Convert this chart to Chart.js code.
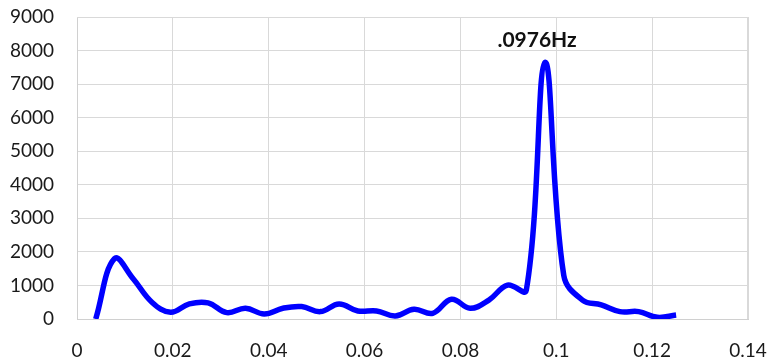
<!DOCTYPE html>
<html>
<head>
<meta charset="utf-8">
<script src="https://cdn.jsdelivr.net/npm/chart.js@4/dist/chart.umd.min.js"></script>
<style>
  html, body { margin: 0; padding: 0; background: #fff; }
  #wrap { width: 768px; height: 360px; }
</style>
</head>
<body>
<div id="wrap"><canvas id="c" width="768" height="360"></canvas></div>
<script>
// FFT bin index (frequency = bin / 256 Hz)
const bins = [1,2,3,4,5,6,7,8,9,10,11,12,13,14,15,16,17,18,19,20,21,22,23,24,25,26,27,28,29,30,31,32];
// Spectral magnitude per bin
const magnitude = [0,1800,1200,500,200,450,480,190,320,150,320,370,220,450,240,240,90,290,170,590,320,565,1010,860,7650,1300,565,420,220,220,50,120];
const xTicks = [0,0.02,0.04,0.06,0.08,0.1,0.12,0.14];
const yTicks = [0,1000,2000,3000,4000,5000,6000,7000,8000,9000];
const peakLabel = '.0976Hz';
const peakBin = 25;

const points = bins.map((b, i) => ({ x: b / 256, y: magnitude[i] }));

const peakLabelPlugin = {
  id: 'peakLabel',
  afterDatasetsDraw(chart) {
    const { ctx, scales } = chart;
    const i = bins.indexOf(peakBin);
    const px = scales.x.getPixelForValue(points[i].x);
    const py = scales.y.getPixelForValue(points[i].y);
    ctx.save();
    ctx.font = 'bold 21px Lato, "Open Sans", sans-serif';
    ctx.fillStyle = '#111';
    ctx.textAlign = 'center';
    ctx.textBaseline = 'alphabetic';
    ctx.fillText(peakLabel, px - 8, py - 15);
    ctx.restore();
  }
};

new Chart(document.getElementById('c'), {
  type: 'line',
  data: {
    datasets: [{
      data: points,
      borderColor: '#0000ff',
      borderWidth: 5.5,
      pointRadius: 0,
      tension: 0.4,
      fill: false
    }]
  },
  options: {
    responsive: false,
    animation: false,
    layout: { padding: 0 },
    plugins: { legend: { display: false }, tooltip: { enabled: false } },
    scales: {
      x: {
        type: 'linear',
        min: 0, max: 0.14,
        afterBuildTicks(s) { s.ticks = xTicks.map(v => ({ value: v })); },
        afterFit(s) { s.height = 41; s.paddingLeft = 0; s.paddingRight = 20; },
        grid: { color: '#d9d9d9', lineWidth: 1, drawTicks: false },
        border: { color: '#d0d0d0' },
        ticks: {
          padding: 20,
          color: '#1a1a1a',
          font: { family: 'Lato, "Open Sans", sans-serif', size: 19 },
          maxRotation: 0,
          callback: v => String(Number(v.toFixed(2)))
        }
      },
      y: {
        min: 0, max: 9000,
        afterBuildTicks(s) { s.ticks = yTicks.map(v => ({ value: v })); },
        afterFit(s) { s.width = 77; s.paddingTop = 17; s.paddingBottom = 0; },
        grid: { color: '#d9d9d9', lineWidth: 1, drawTicks: false },
        border: { color: '#d0d0d0' },
        ticks: {
          padding: 23,
          color: '#1a1a1a',
          font: { family: 'Lato, "Open Sans", sans-serif', size: 19 },
          callback: v => String(v)
        }
      }
    }
  },
  plugins: [peakLabelPlugin, {
    id: 'frame',
    afterDraw(chart) {
      const { ctx, chartArea: a } = chart;
      ctx.save();
      ctx.strokeStyle = '#d9d9d9';
      ctx.lineWidth = 1;
      ctx.beginPath();
      ctx.moveTo(a.left, a.top + 0.5);
      ctx.lineTo(a.right, a.top + 0.5);
      ctx.moveTo(a.right - 0.5, a.top);
      ctx.lineTo(a.right - 0.5, a.bottom);
      ctx.stroke();
      ctx.restore();
    }
  }]
});
</script>
</body>
</html>
